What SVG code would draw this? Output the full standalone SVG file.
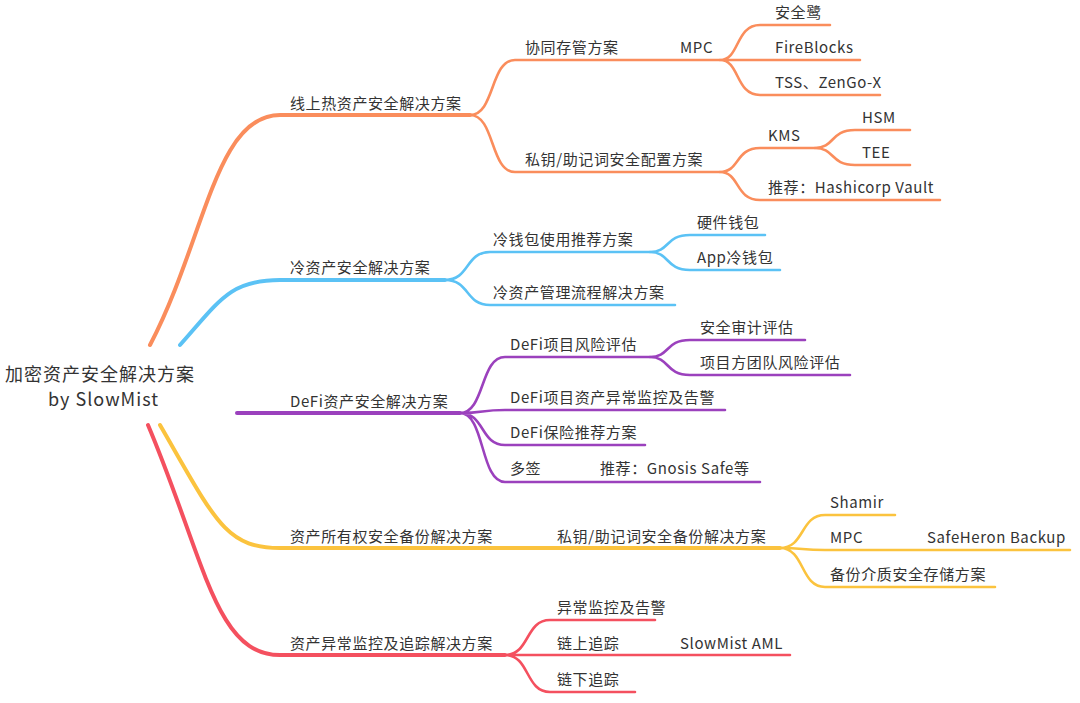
<svg xmlns="http://www.w3.org/2000/svg" width="1080" height="703" viewBox="0 0 1080 703">
<style>
text{font-family:"Noto Sans CJK SC","Noto Sans",sans-serif;font-size:15px;letter-spacing:0.6px;fill:#333}
.root{font-size:18px;letter-spacing:1px}
path{fill:none;stroke-linecap:round}
.o{stroke:#FA8D5C}.b{stroke:#5BC2F5}.p{stroke:#9B41BD}.y{stroke:#FBC33E}.r{stroke:#F4505F}
.m{stroke-width:4}.s{stroke-width:2.6}
</style>
<rect width="1080" height="703" fill="#fff"/>
<g id="connectors">
<path class="o m" d="M150,345 C205,240 215,115 280,115 L470,115"/>
<path class="o s" d="M470,115 C495,115 490,60 515,60 L720,60"/>
<path class="o s" d="M720,60 C740,60 735,25 760,25 L830,25 M720,60 L860,60 M720,60 C740,60 735,95 760,95 L880,95"/>
<path class="o s" d="M470,115 C495,115 490,172 515,172 L720,172"/>
<path class="o s" d="M720,172 C740,172 735,148 760,148 L815,148 M720,172 C740,172 735,200 760,200 L940,200"/>
<path class="o s" d="M815,148 C835,148 830,130 855,130 L910,130 M815,148 C835,148 830,165 855,165 L910,165"/>
<path class="b m" d="M180,345 C220,300 230,280 280,280 L445,280"/>
<path class="b s" d="M445,280 C470,280 465,252 490,252 L650,252 M445,280 C470,280 465,305 490,305 L675,305"/>
<path class="b s" d="M650,252 C670,252 665,235 690,235 L765,235 M650,252 C670,252 665,270 690,270 L780,270"/>
<path class="p m" d="M237,413 L460,413"/>
<path class="p s" d="M460,413 C485,413 480,357 505,357 L650,357 M460,413 C485,413 480,410 505,410 L725,410 M460,413 C485,413 480,445 505,445 L645,445 M460,413 C485,413 480,482 505,482 L760,482"/>
<path class="p s" d="M650,357 C670,357 665,340 690,340 L805,340 M650,357 C670,357 665,375 690,375 L850,375"/>
<path class="y m" d="M160,425 C215,520 225,548 280,548 L780,548"/>
<path class="y s" d="M780,548 C805,548 800,515 825,515 L895,515 M780,548 C805,548 800,550 825,550 L1070,550 M780,548 C805,548 800,587 825,587 L995,587"/>
<path class="r m" d="M148,425 C205,560 215,655 280,655 L505,655"/>
<path class="r s" d="M505,655 C530,655 525,620 550,620 L655,620 M505,655 L790,655 M505,655 C530,655 525,692 550,692 L635,692"/>
</g>
<g id="root"><text class="root" x="5" y="381">加密资产安全解决方案</text><text class="root" x="48" y="406">by SlowMist</text></g>
<g id="n1"><text x="290" y="109">线上热资产安全解决方案</text></g>
<g id="n2"><text x="525" y="53">协同存管方案</text></g>
<g id="n3"><text x="680" y="53">MPC</text></g>
<g id="n4"><text x="775" y="18">安全鹭</text></g>
<g id="n5"><text x="775" y="53">FireBlocks</text></g>
<g id="n6"><text x="775" y="88">TSS、ZenGo-X</text></g>
<g id="n7"><text x="525" y="165">私钥/助记词安全配置方案</text></g>
<g id="n8"><text x="768" y="141">KMS</text></g>
<g id="n9"><text x="862" y="123">HSM</text></g>
<g id="n10"><text x="862" y="158">TEE</text></g>
<g id="n11"><text x="768" y="193">推荐：Hashicorp Vault</text></g>
<g id="n12"><text x="290" y="273">冷资产安全解决方案</text></g>
<g id="n13"><text x="493" y="245">冷钱包使用推荐方案</text></g>
<g id="n14"><text x="697" y="228">硬件钱包</text></g>
<g id="n15"><text x="697" y="263">App冷钱包</text></g>
<g id="n16"><text x="493" y="298">冷资产管理流程解决方案</text></g>
<g id="n17"><text x="290" y="407">DeFi资产安全解决方案</text></g>
<g id="n18"><text x="510" y="350">DeFi项目风险评估</text></g>
<g id="n19"><text x="700" y="333">安全审计评估</text></g>
<g id="n20"><text x="700" y="368">项目方团队风险评估</text></g>
<g id="n21"><text x="510" y="403">DeFi项目资产异常监控及告警</text></g>
<g id="n22"><text x="510" y="438">DeFi保险推荐方案</text></g>
<g id="n23"><text x="510" y="474">多签</text></g>
<g id="n24"><text x="600" y="474">推荐：Gnosis Safe等</text></g>
<g id="n25"><text x="290" y="542">资产所有权安全备份解决方案</text></g>
<g id="n26"><text x="557" y="542">私钥/助记词安全备份解决方案</text></g>
<g id="n27"><text x="830" y="508">Shamir</text></g>
<g id="n28"><text x="830" y="543">MPC</text></g>
<g id="n29"><text x="927" y="543">SafeHeron Backup</text></g>
<g id="n30"><text x="830" y="580">备份介质安全存储方案</text></g>
<g id="n31"><text x="290" y="649">资产异常监控及追踪解决方案</text></g>
<g id="n32"><text x="557" y="613">异常监控及告警</text></g>
<g id="n33"><text x="557" y="649">链上追踪</text></g>
<g id="n34"><text x="680" y="649">SlowMist AML</text></g>
<g id="n35"><text x="557" y="685">链下追踪</text></g>
</svg>
